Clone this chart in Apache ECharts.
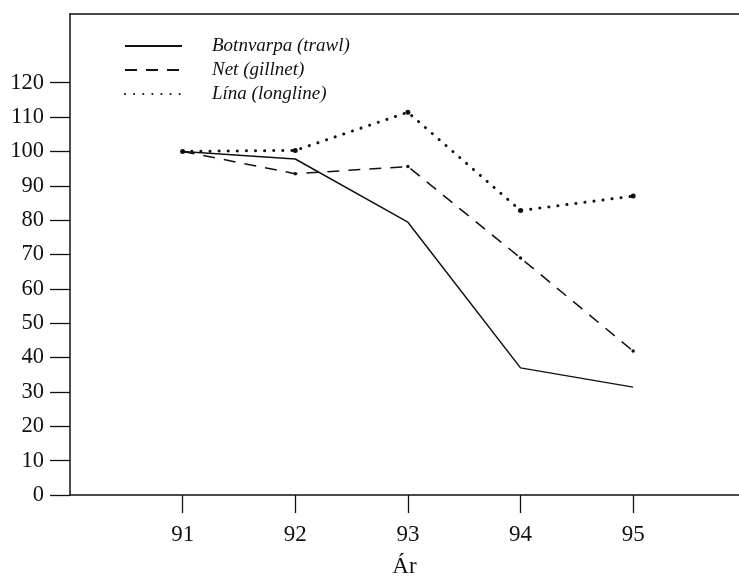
<!DOCTYPE html>
<html>
<head>
<meta charset="utf-8">
<script src="https://cdn.jsdelivr.net/npm/echarts@6/dist/echarts.min.js"></script>
<style>
  html, body { margin: 0; padding: 0; background: #fff; }
  #chart { width: 739px; height: 577px; }
</style>
</head>
<body>
<div id="chart"></div>
<script>
const years = [91, 92, 93, 94, 95];
const botnvarpa = [100, 97.8, 79.4, 37.0, 31.4];
const net = [100, 93.5, 95.6, 69.0, 41.9];
const lina = [100, 100.3, 111.4, 82.8, 87.0];
const yTicks = [0, 10, 20, 30, 40, 50, 60, 70, 80, 90, 100, 110, 120];
const seriesNames = ["Botnvarpa (trawl)", "Net (gillnet)", "Lína (longline)"];

const ink = "#111";
const font = "Liberation Serif";

const pairs = (vals) => years.map((y, i) => [y, vals[i]]);

const myChart = echarts.init(document.getElementById("chart"));
myChart.setOption({
  animation: false,
  backgroundColor: "#fff",
  grid: { left: 70, top: 14, right: 0, bottom: 82, outerBoundsMode: "none" },
  legend: {
    orient: "vertical",
    left: 119,
    top: 31,
    itemWidth: 57,
    itemHeight: 14,
    itemGap: 4,
    itemStyle: { opacity: 0 },
    textStyle: {
      fontFamily: font,
      fontStyle: "italic",
      fontSize: 19,
      lineHeight: 20,
      color: ink,
      padding: [0, 0, 0, 25],
    },
    data: seriesNames,
  },
  xAxis: [
    {
      type: "value",
      min: 90,
      max: 95.94,
      name: "Ár",
      nameLocation: "middle",
      nameGap: 60,
      nameTextStyle: { fontFamily: font, fontSize: 23, color: ink },
      axisLine: { show: true, lineStyle: { color: ink, width: 1.5 } },
      axisTick: {
        show: true,
        inside: false,
        length: 18,
        customValues: years,
        lineStyle: { color: ink, width: 1.3 },
      },
      axisLabel: {
        customValues: years,
        margin: 28,
        fontFamily: font,
        fontSize: 23,
        color: ink,
      },
      splitLine: { show: false },
    },
    {
      type: "value",
      position: "top",
      min: 90,
      max: 95.94,
      axisLine: { show: true, lineStyle: { color: ink, width: 1.5 } },
      axisTick: { show: false },
      axisLabel: { show: false },
      splitLine: { show: false },
    },
  ],
  yAxis: {
    type: "value",
    min: 0,
    max: 140,
    interval: 10,
    axisLine: { show: true, lineStyle: { color: ink, width: 1.5 } },
    axisTick: {
      show: true,
      length: 20,
      customValues: yTicks,
      lineStyle: { color: ink, width: 1.3 },
    },
    axisLabel: {
      customValues: yTicks,
      margin: 26,
      fontFamily: font,
      fontSize: 22.5,
      color: ink,
    },
    splitLine: { show: false },
  },
  series: [
    {
      name: seriesNames[0],
      type: "line",
      data: pairs(botnvarpa),
      symbol: "none",
      lineStyle: { color: ink, width: 1.5, type: "solid" },
      itemStyle: { color: ink },
    },
    {
      name: seriesNames[1],
      type: "line",
      data: pairs(net),
      symbol: "circle",
      symbolSize: 3.5,
      lineStyle: { color: ink, width: 1.5, type: [12, 9] },
      itemStyle: { color: ink },
    },
    {
      name: seriesNames[2],
      type: "line",
      data: pairs(lina),
      symbol: "circle",
      symbolSize: 5,
      lineStyle: { color: ink, width: 3, type: [0.1, 9], cap: "round" },
      itemStyle: { color: ink },
    },
  ],
});
</script>
</body>
</html>
